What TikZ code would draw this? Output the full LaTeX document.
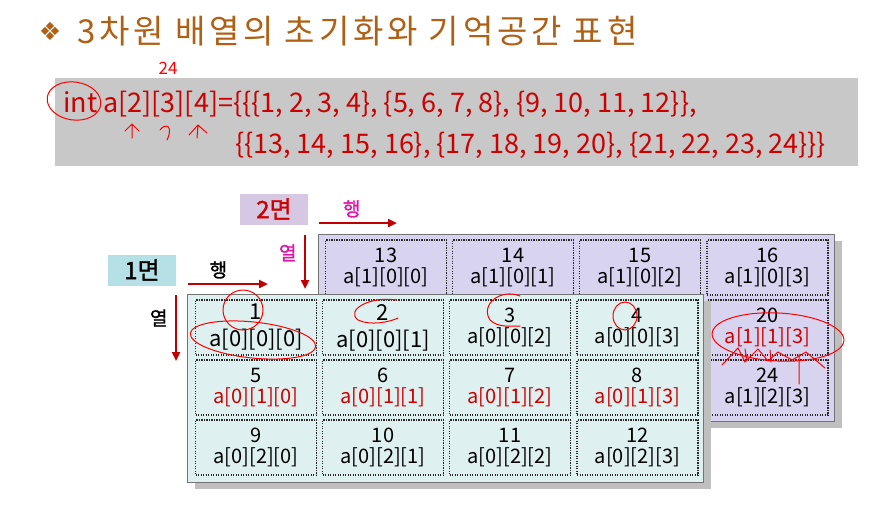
\documentclass[tikz,border=0pt]{standalone}
\usepackage{fontspec}
\setmainfont{Noto Sans CJK KR}
\newfontfamily\symfont{DejaVu Sans}
\newfontfamily\titlefont[LetterSpace=11.5]{Noto Sans CJK KR}
\newfontfamily\tagfont[FakeBold=1.5]{Noto Sans CJK KR}
\usetikzlibrary{arrows.meta,positioning}
\definecolor{titlebrown}{RGB}{176,96,20}
\definecolor{codered}{RGB}{205,0,0}
\definecolor{arrred}{RGB}{192,0,0}
\definecolor{planeA}{RGB}{222,240,240}
\definecolor{planeB}{RGB}{216,212,240}
\definecolor{tagA}{RGB}{180,224,230}
\definecolor{tagB}{RGB}{214,200,226}
\definecolor{codegray}{RGB}{200,200,200}
\definecolor{pink}{RGB}{225,20,170}

\begin{document}
\begin{tikzpicture}[x=1pt, y=-1pt,
  cell/.style={draw=black!85, line width=1.1pt, dash pattern=on 1.1pt off 1.4pt,
               minimum width=121pt, minimum height=55pt, align=center, inner sep=0pt,
               font=\fontsize{20}{21}\selectfont},
  bigcell/.style={cell, font=\fontsize{22}{27}\selectfont},
  plane/.style={draw=black!55, line width=0.8pt},
  shade/.style={fill=black!25, draw=none},
  tag/.style={minimum width=68pt, minimum height=31pt, inner sep=0pt,
              font=\tagfont\fontsize{24}{24}\selectfont},
  codeline/.style={anchor=base west, inner sep=0pt, text=codered,
                   font=\fontsize{27}{27}\selectfont},
  dirlabel/.style={font=\tagfont\fontsize{19}{19}\selectfont},
  arr/.style={-{Triangle[length=9pt,width=8pt]}, line width=2.4pt, arrred},
  pen/.style={red, line width=1pt, line cap=round}
]
\useasboundingbox (0,0) rectangle (889,509);

% ======= Title =======
\node[font=\symfont\fontsize{25}{25}\selectfont, text=titlebrown] (bullet) at (50,31) {❖};
\node[anchor=west, inner sep=0pt, font=\titlefont\fontsize{33}{33}\selectfont, text=titlebrown]
  (title) at (77,31) {3차원 배열의 초기화와 기억공간 표현};

% ======= Code box =======
\fill[codegray] (55,78) rectangle (858,166);
\node[codeline] (code1) at (63,112)
  {int a[2][3][4]=\{\{\{1, 2, 3, 4\}, \{5, 6, 7, 8\}, \{9, 10, 11, 12\}\},};
\node[codeline] (code2) at (235,153)
  {\{\{13, 14, 15, 16\}, \{17, 18, 19, 20\}, \{21, 22, 23, 24\}\}\}};

% ======= Plane 2 =======
\fill[shade] (326,241) rectangle (842,428);
\draw[plane, fill=planeB] (318,234) rectangle (834,421);
\node[cell] (b00) at (386,267.5) {13\\a[1][0][0]};
\node[cell] (b01) at (513,267.5) {14\\a[1][0][1]};
\node[cell] (b02) at (640,267.5) {15\\a[1][0][2]};
\node[cell] (b03) at (767.5,267.5) {16\\a[1][0][3]};
\node[cell] (b13) at (767.5,327.5) {20\\\textcolor{codered}{a[1][1][3]}};
\node[cell] (b23) at (767.5,387.5) {24\\a[1][2][3]};

% ======= Plane 1 =======
\fill[shade] (195,301) rectangle (711,489);
\draw[plane, fill=planeA] (187,294) rectangle (703,482);
\node[bigcell] (a00) at (256,327.5) {1\\a[0][0][0]};
\node[bigcell] (a01) at (383,327.5) {2\\a[0][0][1]};
\node[cell]    (a02) at (510,327.5) {3\\a[0][0][2]};
\node[cell]    (a03) at (637.5,327.5) {4\\a[0][0][3]};
\node[cell] (a10) at (256,387.5) {5\\\textcolor{codered}{a[0][1][0]}};
\node[cell] (a11) at (383,387.5) {6\\\textcolor{codered}{a[0][1][1]}};
\node[cell] (a12) at (510,387.5) {7\\\textcolor{codered}{a[0][1][2]}};
\node[cell] (a13) at (637.5,387.5) {8\\\textcolor{codered}{a[0][1][3]}};
\node[cell] (a20) at (256,447.5) {9\\a[0][2][0]};
\node[cell] (a21) at (383,447.5) {10\\a[0][2][1]};
\node[cell] (a22) at (510,447.5) {11\\a[0][2][2]};
\node[cell] (a23) at (637.5,447.5) {12\\a[0][2][3]};

% ======= Plane tags and directions =======
\node[tag, fill=tagA] (tag1) at (142,270) {1면};
\node[tag, fill=tagB, text=codered] (tag2) at (274,209) {2면};

\coordinate (row1s) at (188,284);  \coordinate (row1e) at (268,284);
\coordinate (col1s) at (176,295);  \coordinate (col1e) at (176,361);
\coordinate (row2s) at (319,223);  \coordinate (row2e) at (397,223);
\coordinate (col2s) at (305,235);  \coordinate (col2e) at (305,289);
\draw[arr] (row1s) -- node[pos=0.38, above=1pt, black, dirlabel]{행} (row1e);
\draw[arr] (col1s) -- node[pos=0.35, left=4pt, black, dirlabel]{열} (col1e);
\draw[arr] (row2s) -- node[pos=0.42, above=1pt, pink, dirlabel]{행} (row2e);
\draw[arr] (col2s) -- node[pos=0.33, left=4pt, pink, dirlabel]{열} (col2e);

% ======= Pen marks =======
\draw[pen, rotate around={-8:(74,101)}] (74,101) ellipse (27 and 19);
\node[red, font=\itshape\fontsize{17}{17}\selectfont] (mark24) at (168,68) {24};
\draw[pen] (132,138) -- (132,125) (125,131) -- (132,124) -- (139,131);
\draw[pen] (160,130) .. controls (165,123) and (174,125) .. (167,140);
\draw[pen] (189,135) -- (198,125) -- (207,133) (198,125) -- (197,138);
\draw[pen] (243,310) ellipse (20 and 20);
\draw[pen, rotate around={-6:(253,340)}] (253,340) ellipse (63 and 18);
\draw[pen] (396,300) .. controls (370,296) and (345,310) .. (358,320) .. controls (370,326) and (390,322) .. (398,318);
\draw[pen] (520,296) .. controls (500,288) and (480,305) .. (490,320) .. controls (498,328) and (512,326) .. (520,326);
\draw[pen] (625,316) ellipse (12 and 14);
\draw[pen, rotate around={-3:(778,337)}] (778,337) ellipse (66 and 24);
\draw[pen] (722,365) -- (738,348) -- (745,362) -- (758,349) -- (768,361) -- (778,352) -- (792,360) -- (806,352) -- (825,368);
\draw[pen] (745,349) -- (747,360) (770,350) -- (771,362) (799,354) -- (799,384);
\end{tikzpicture}
\end{document}
